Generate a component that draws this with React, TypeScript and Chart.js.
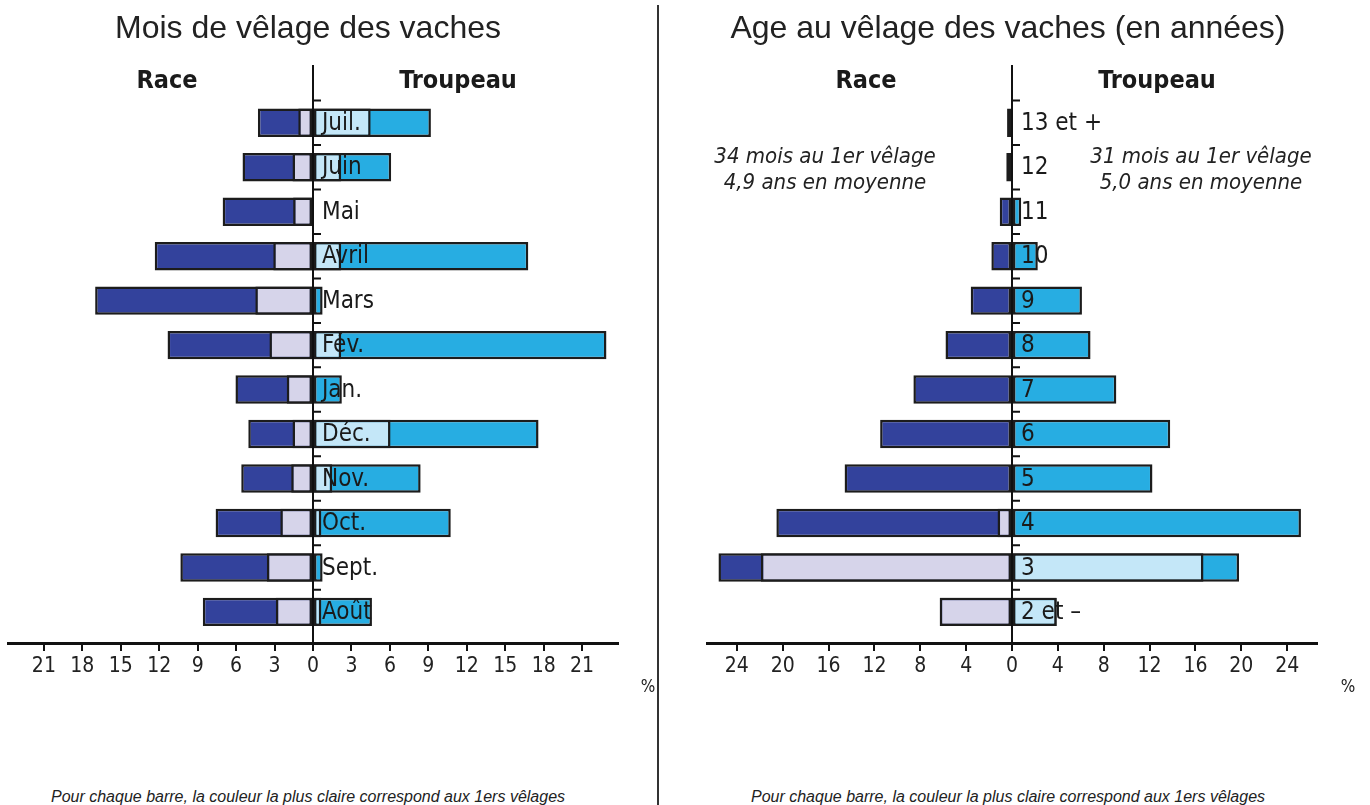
import React, { useEffect, useRef } from "react";
import { Chart, registerables } from "chart.js";
Chart.register(...registerables);

// ---------- Data ----------
const monthLabels = ["Juil.", "Juin", "Mai", "Avril", "Mars", "Fév.", "Jan.", "Déc.", "Nov.", "Oct.", "Sept.", "Août"];
const monthRaceTotal = [4.3, 5.5, 7.05, 12.35, 17.0, 11.35, 6.05, 5.05, 5.6, 7.6, 10.35, 8.6];
const monthRaceFirst = [1.15, 1.6, 1.55, 3.1, 4.5, 3.4, 2.05, 1.6, 1.7, 2.55, 3.6, 2.9];
const monthHerdTotal = [9.2, 6.1, 0, 16.8, 0.75, 22.9, 2.25, 17.6, 8.4, 10.75, 0.75, 4.6];
const monthHerdFirst = [4.5, 2.2, 0, 2.2, 0, 2.2, 0, 6.05, 1.5, 0.65, 0, 0.65];

const ageLabels = ["13 et +", "12", "11", "10", "9", "8", "7", "6", "5", "4", "3", "2 et –"];
const ageRaceTotal = [0.43, 0.5, 1.07, 1.8, 3.6, 5.8, 8.6, 11.5, 14.6, 20.55, 25.6, 6.3];
const ageRaceFirst = [0, 0, 0, 0, 0, 0, 0, 0, 0, 1.26, 21.9, 6.3];
const ageHerdTotal = [0, 0, 0.8, 2.25, 6.1, 6.85, 9.1, 13.8, 12.25, 25.2, 19.8, 3.9];
const ageHerdFirst = [0, 0, 0, 0, 0, 0, 0, 0, 0, 0, 16.7, 3.9];

const monthAxis = { min: -23.8, max: 23.8, step: 3 };
const ageAxis = { min: -26.6, max: 26.6, step: 4 };

// ---------- Style ----------
const RACE_DARK = "#33429c";
const RACE_LIGHT = "#d6d4ea";
const HERD_DARK = "#27ade2";
const HERD_LIGHT = "#c4e7f8";
const EDGE = "#1c1c1c";
const COND = '"DejaVu Sans Condensed", "DejaVu Sans", sans-serif';
const ARIAL = '"Liberation Sans", Arial, sans-serif';

const toPoints = (vals: number[], sign: number) => vals.map((v, i) => ({ x: sign * v, y: i }));

const pyramidPlugin = (labels: string[]) => ({
  id: "pyramidAxis",
  afterDatasetsDraw(chart: any) {
    const { ctx, chartArea, scales } = chart;
    const x = scales.x;
    const y = scales.y;
    const x0 = x.getPixelForValue(0);
    ctx.save();
    ctx.strokeStyle = "#111";
    ctx.lineWidth = 2;
    ctx.beginPath();
    ctx.moveTo(x0, chartArea.top);
    ctx.lineTo(x0, chartArea.bottom);
    for (let i = 0; i < labels.length; i++) {
      const yy = y.getPixelForValue(i - 0.5);
      ctx.moveTo(x0, yy);
      ctx.lineTo(x0 + 8, yy);
    }
    ctx.stroke();
    ctx.fillStyle = "#1a1a1a";
    ctx.font = `24px ${COND}`;
    ctx.textBaseline = "middle";
    ctx.textAlign = "left";
    labels.forEach((lab, i) => {
      ctx.fillText(lab, x0 + 9, y.getPixelForValue(i) + 1);
    });
    ctx.restore();
  },
});

function Pyramid(props: {
  labels: string[];
  raceTotal: number[];
  raceFirst: number[];
  herdTotal: number[];
  herdFirst: number[];
  axis: { min: number; max: number; step: number };
  padLeft: number;
  padRight: number;
  width: number;
  left: number;
}) {
  const ref = useRef<HTMLCanvasElement>(null);
  useEffect(() => {
    if (!ref.current) return;
    const barOpts = {
      grouped: false,
      barPercentage: 0.64,
      categoryPercentage: 1,
      borderColor: EDGE,
      borderWidth: 2.5,
      borderSkipped: false,
    };
    const chart = new Chart(ref.current, {
      type: "bar",
      data: {
        datasets: [
          { label: "Race 1ers", data: toPoints(props.raceFirst, -1), backgroundColor: RACE_LIGHT, order: 1, ...barOpts },
          { label: "Troupeau 1ers", data: toPoints(props.herdFirst, 1), backgroundColor: HERD_LIGHT, order: 1, ...barOpts },
          { label: "Race", data: toPoints(props.raceTotal, -1), backgroundColor: RACE_DARK, order: 2, ...barOpts },
          { label: "Troupeau", data: toPoints(props.herdTotal, 1), backgroundColor: HERD_DARK, order: 2, ...barOpts },
        ] as any,
      },
      options: {
        indexAxis: "y",
        animation: false,
        responsive: false,
        maintainAspectRatio: false,
        layout: { padding: { left: props.padLeft, right: props.padRight, top: 65, bottom: 32 } },
        plugins: { legend: { display: false }, tooltip: { enabled: false } },
        scales: {
          x: {
            type: "linear",
            min: props.axis.min,
            max: props.axis.max,
            ticks: {
              stepSize: props.axis.step,
              includeBounds: false,
              callback: (v: any) => String(Math.abs(Number(v))),
              font: { family: COND, size: 21 },
              color: "#222",
              padding: 3,
            },
            grid: { drawOnChartArea: false, tickLength: 8, color: "#111", lineWidth: 2 },
            border: { color: "#111", width: 3 },
            afterFit: (s: any) => {
              s.height = 45;
            },
          },
          y: {
            type: "linear",
            display: false,
            offset: false,
            reverse: true,
            min: -1.3,
            max: 11.7,
            ticks: { stepSize: 1, includeBounds: false },
            grid: { offset: false },
          },
        },
      } as any,
      plugins: [pyramidPlugin(props.labels)],
    });
    return () => chart.destroy();
  }, []);
  return (
    <canvas
      ref={ref}
      width={props.width}
      height={720}
      style={{ position: "absolute", left: props.left, top: 0, width: props.width, height: 720 }}
    />
  );
}

const Txt = (p: { x: number; y: number; style: any; children: any }) => (
  <div
    style={{
      position: "absolute",
      left: p.x,
      top: p.y,
      transform: "translate(-50%, -50%)",
      whiteSpace: "nowrap",
      color: "#1a1a1a",
      lineHeight: 1,
      ...p.style,
    }}
  >
    {p.children}
  </div>
);

export default function App() {
  const title = { fontFamily: ARIAL, fontSize: 32, color: "#222" };
  const head = { fontFamily: COND, fontSize: 25, fontWeight: "bold" };
  const note = { fontFamily: COND, fontSize: 22, fontStyle: "italic", color: "#222" };
  const foot = { fontFamily: ARIAL, fontSize: 16, fontStyle: "italic", color: "#222" };
  const pct = { fontFamily: COND, fontSize: 17, color: "#222" };
  return (
    <div style={{ position: "absolute", left: 0, top: 0, width: 1370, height: 805, background: "#fff", overflow: "hidden" }}>
      <Pyramid
        labels={monthLabels}
        raceTotal={monthRaceTotal}
        raceFirst={monthRaceFirst}
        herdTotal={monthHerdTotal}
        herdFirst={monthHerdFirst}
        axis={monthAxis}
        padLeft={8}
        padRight={40}
        width={658}
        left={0}
      />
      <Pyramid
        labels={ageLabels}
        raceTotal={ageRaceTotal}
        raceFirst={ageRaceFirst}
        herdTotal={ageHerdTotal}
        herdFirst={ageHerdFirst}
        axis={ageAxis}
        padLeft={47}
        padRight={53}
        width={710}
        left={660}
      />
      <div style={{ position: "absolute", left: 657, top: 5, width: 2, height: 800, background: "#333" }} />
      <Txt x={308} y={27} style={title}>Mois de vêlage des vaches</Txt>
      <Txt x={1008} y={27} style={title}>Age au vêlage des vaches (en années)</Txt>
      <Txt x={167} y={79} style={head}>Race</Txt>
      <Txt x={458} y={79} style={head}>Troupeau</Txt>
      <Txt x={866} y={79} style={head}>Race</Txt>
      <Txt x={1157} y={79} style={head}>Troupeau</Txt>
      <Txt x={825} y={156} style={note}>34 mois au 1er vêlage</Txt>
      <Txt x={825} y={182} style={note}>4,9 ans en moyenne</Txt>
      <Txt x={1201} y={156} style={note}>31 mois au 1er vêlage</Txt>
      <Txt x={1201} y={182} style={note}>5,0 ans en moyenne</Txt>
      <Txt x={648} y={686} style={pct}>%</Txt>
      <Txt x={1348} y={686} style={pct}>%</Txt>
      <Txt x={308} y={797} style={foot}>Pour chaque barre, la couleur la plus claire correspond aux 1ers vêlages</Txt>
      <Txt x={1008} y={797} style={foot}>Pour chaque barre, la couleur la plus claire correspond aux 1ers vêlages</Txt>
    </div>
  );
}
